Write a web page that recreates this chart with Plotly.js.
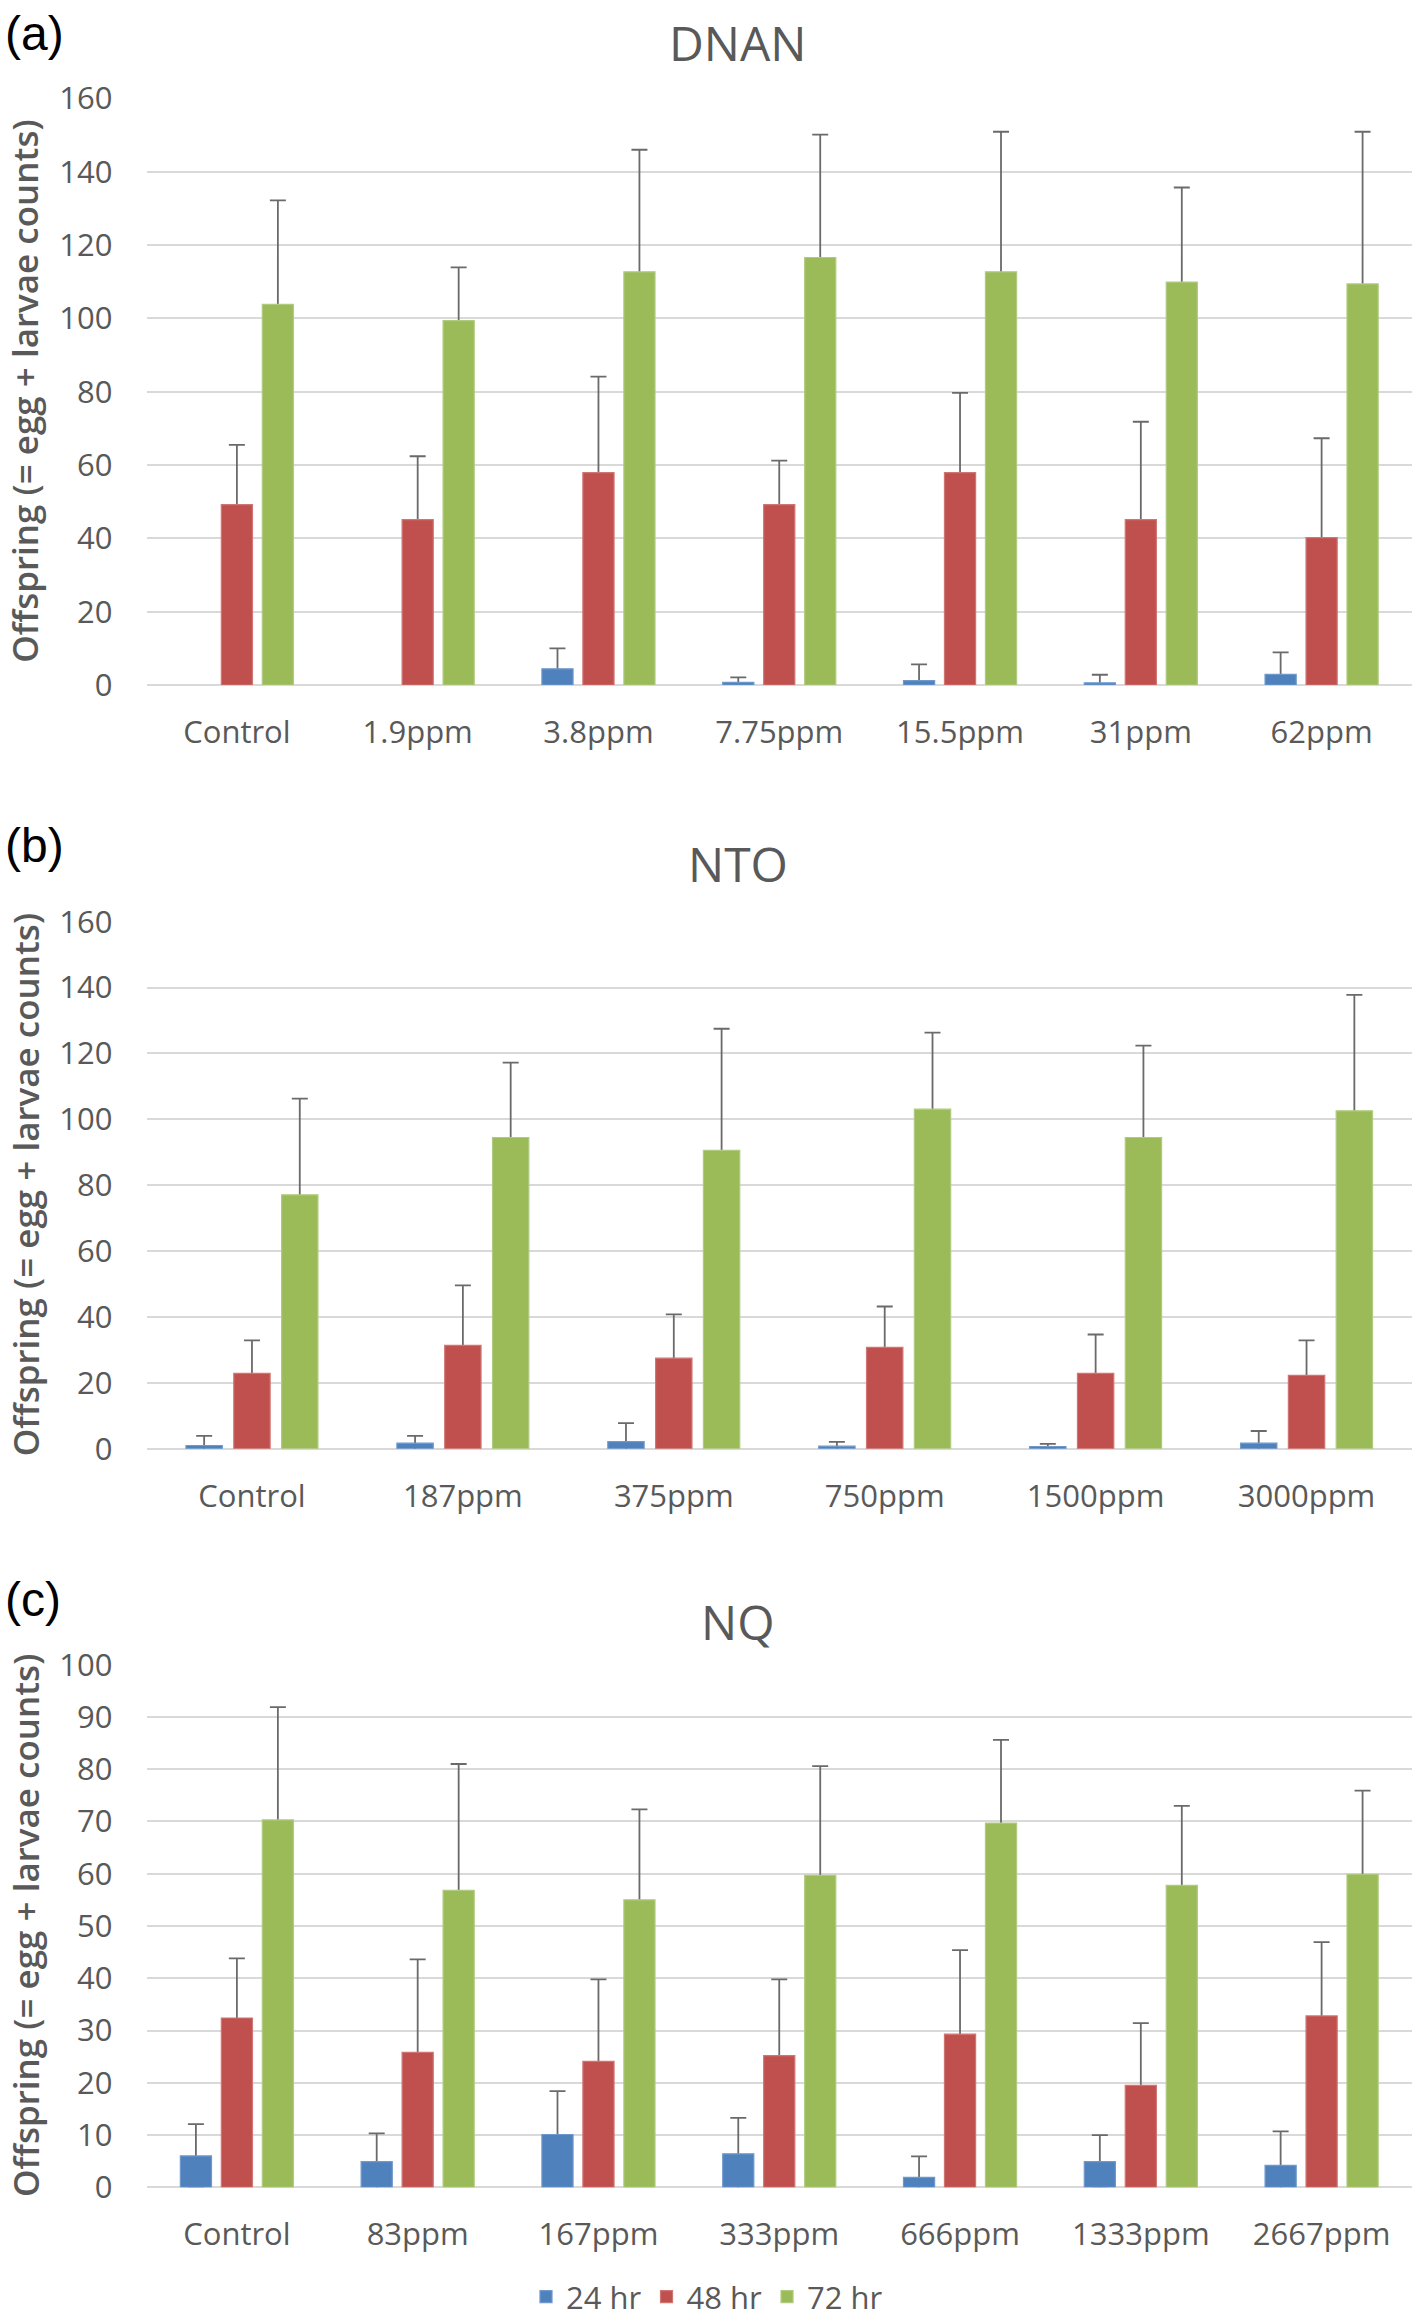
<!DOCTYPE html>
<html>
<head>
<meta charset="utf-8">
<script src="https://cdn.plot.ly/plotly-3.0.1.min.js"></script>
<style>
html,body{margin:0;padding:0;background:#fff;}
#chart{width:1418px;height:2324px;}
</style>
</head>
<body>
<div id="chart"></div>
<script>
// ---- data ----
const seriesNames = ['24 hr', '48 hr', '72 hr'];
const seriesColors = ['#4F81BD', '#C0504D', '#9BBB59'];
const seriesLines = ['#6f98cc', '#cf7572', '#b0cb80'];

const panelLabels = ['(a)', '(b)', '(c)'];
const panelTitles = ['DNAN', 'NTO', 'NQ'];
const yTitle = 'Offspring (= egg + larvae counts)';

// (a) DNAN
const dnanCats = ['Control', '1.9ppm', '3.8ppm', '7.75ppm', '15.5ppm', '31ppm', '62ppm'];
const dnan24 = [0, 0, 4.4, 0.7, 1.2, 0.6, 2.9];
const dnan24sd = [0, 0, 5.6, 1.4, 4.4, 2.2, 6.0];
const dnan48 = [49.2, 45.1, 57.9, 49.2, 57.9, 45.1, 40.2];
const dnan48sd = [16.3, 17.3, 26.2, 12.0, 21.8, 26.7, 27.1];
const dnan72 = [103.8, 99.4, 112.7, 116.6, 112.7, 109.9, 109.4];
const dnan72sd = [28.4, 14.5, 33.3, 33.5, 38.2, 25.8, 41.5];

// (b) NTO
const ntoCats = ['Control', '187ppm', '375ppm', '750ppm', '1500ppm', '3000ppm'];
const nto24 = [1.0, 1.7, 2.2, 0.8, 0.7, 1.7];
const nto24sd = [2.9, 2.2, 5.6, 1.3, 0.8, 3.7];
const nto48 = [22.9, 31.4, 27.5, 30.8, 22.9, 22.3];
const nto48sd = [10.0, 18.2, 13.3, 12.4, 11.8, 10.6];
const nto72 = [77.1, 94.5, 90.6, 103.1, 94.5, 102.6];
const nto72sd = [29.2, 22.7, 36.9, 23.2, 27.9, 35.2];

// (c) NQ
const nqCats = ['Control', '83ppm', '167ppm', '333ppm', '666ppm', '1333ppm', '2667ppm'];
const nq24 = [6.0, 4.9, 10.1, 6.4, 1.9, 4.9, 4.2];
const nq24sd = [6.1, 5.4, 8.3, 6.9, 4.0, 5.1, 6.5];
const nq48 = [32.4, 25.8, 24.1, 25.2, 29.3, 19.5, 32.8];
const nq48sd = [11.4, 17.8, 15.7, 14.6, 16.1, 11.9, 14.1];
const nq72 = [70.3, 56.8, 55.0, 59.7, 69.7, 57.8, 59.9];
const nq72sd = [21.6, 24.2, 17.3, 20.9, 15.9, 15.2, 16.0];

const yRanges = [[0, 160], [0, 160], [0, 100]];
const yDticks = [20, 20, 10];

// ---- build ----
const W = 1418, H = 2324;
const px = v => v / W;
const py = v => 1 - v / H;

const panels = [
  {cats: dnanCats, vals: [dnan24, dnan48, dnan72], sds: [dnan24sd, dnan48sd, dnan72sd]},
  {cats: ntoCats, vals: [nto24, nto48, nto72], sds: [nto24sd, nto48sd, nto72sd]},
  {cats: nqCats, vals: [nq24, nq48, nq72], sds: [nq24sd, nq48sd, nq72sd]}
];
// pixel geometry of plot areas: [top, bottom]
const panelPix = [[98.4, 685.0], [921.7, 1448.8], [1664.7, 2187.3]];
const titleY = [42.5, 863, 1621];
const labelY = [33, 846, 1599];

const tickFont = {family: 'Open Sans, sans-serif', size: 31, color: '#595959'};
const errTraces = [];
const barTraces = [];
panels.forEach((p, pi) => {
  const ax = pi === 0 ? '' : String(pi + 1);
  for (let s = 0; s < 3; s++) {
    const sd = p.sds[s];
    const vals = p.vals[s];
    // error bars (plus direction shown; lower half hidden behind bars)
    errTraces.push({
      type: 'bar',
      name: seriesNames[s] + ' err',
      showlegend: false,
      offsetgroup: 'g' + s,
      x: p.cats,
      y: vals,
      xaxis: 'x' + ax,
      yaxis: 'y' + ax,
      marker: {color: 'rgba(0,0,0,0)', line: {width: 0}},
      error_y: {
        type: 'data', symmetric: true,
        array: sd.map((v, i) => (vals[i] > 0 ? v : NaN)),
        color: '#6a6a6a', thickness: 1.8, width: 8
      },
      hoverinfo: 'skip'
    });
    barTraces.push({
      type: 'bar',
      name: seriesNames[s],
      legendgroup: seriesNames[s],
      showlegend: pi === 2,
      offsetgroup: 'g' + s,
      x: p.cats,
      y: vals,
      xaxis: 'x' + ax,
      yaxis: 'y' + ax,
      marker: {color: seriesColors[s], line: {color: seriesLines[s], width: vals.map(v => (v > 0 ? 1.2 : 0))}},
      hoverinfo: 'x+y+name'
    });
  }
});
const traces = errTraces.concat(barTraces);

const layout = {
  width: W, height: H,
  margin: {l: 0, r: 0, t: 0, b: 0, autoexpand: false},
  paper_bgcolor: '#ffffff',
  plot_bgcolor: '#ffffff',
  barmode: 'group',
  bargap: 0.32,
  bargroupgap: 0.24,
  showlegend: true,
  legend: {
    orientation: 'h', x: px(707), xanchor: 'center', y: 0, yanchor: 'bottom',
    font: {family: 'Open Sans, sans-serif', size: 31, color: '#595959'},
    traceorder: 'normal', itemclick: false, itemdoubleclick: false
  },
  annotations: []
};

panels.forEach((p, pi) => {
  const ax = pi === 0 ? '' : String(pi + 1);
  const [top, bot] = panelPix[pi];
  layout['xaxis' + ax] = {
    domain: [px(146.5), px(1412)],
    anchor: 'y' + ax,
    type: 'category',
    showgrid: false, showline: false, zeroline: false,
    ticks: '', tickfont: tickFont, ticklabelstandoff: 26,
    fixedrange: true
  };
  layout['yaxis' + ax] = {
    domain: [py(bot), py(top)],
    anchor: 'x' + ax,
    range: yRanges[pi], dtick: yDticks[pi], tick0: 0,
    showgrid: true, gridcolor: '#d9d9d9', gridwidth: 2,
    zeroline: true, zerolinecolor: '#d9d9d9', zerolinewidth: 2,
    showline: false, ticks: '', tickfont: tickFont, ticklabelstandoff: 33,
    fixedrange: true
  };
  layout.annotations.push({
    text: panelTitles[pi], xref: 'paper', yref: 'paper',
    x: px(737.5), y: py(titleY[pi]), xanchor: 'center', yanchor: 'middle',
    showarrow: false, font: {family: 'Open Sans, sans-serif', size: 48, color: '#595959'}
  });
  layout.annotations.push({
    text: panelLabels[pi], xref: 'paper', yref: 'paper',
    x: px(3), y: py(labelY[pi]), xanchor: 'left', yanchor: 'middle',
    showarrow: false, font: {family: 'Liberation Sans, Arial, sans-serif', size: 48, color: '#000000'}
  });
  layout.annotations.push({
    text: yTitle, xref: 'paper', yref: 'paper',
    x: px(25), y: py((top + bot) / 2), xanchor: 'center', yanchor: 'middle',
    textangle: -90, showarrow: false,
    font: {family: 'Open Sans, sans-serif', size: 35, color: '#595959', weight: 600}
  });
});

Plotly.newPlot('chart', traces, layout, {displayModeBar: false, staticPlot: true});
</script>
</body>
</html>
